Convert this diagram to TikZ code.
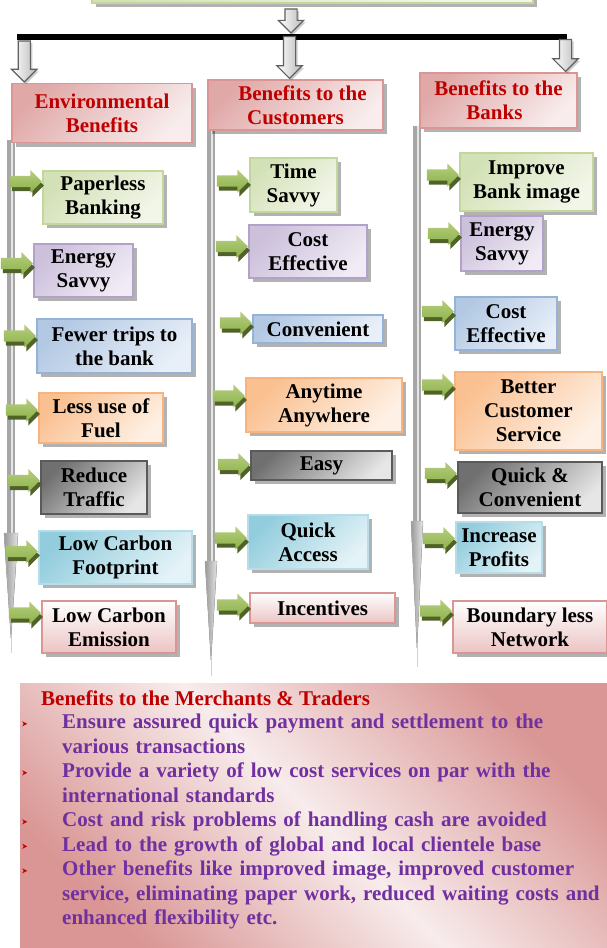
\documentclass[tikz,border=0pt]{standalone}
\usepackage{fontspec}
\setmainfont{Liberation Serif}
\usepackage{xcolor}
\usepackage{tikz}
\usetikzlibrary{shapes,arrows,positioning,shadows}

\definecolor{grnL}{HTML}{F2F6E9}
\definecolor{grnM}{HTML}{D3E1B6}
\definecolor{grnD}{HTML}{C3D69B}
\definecolor{purL}{HTML}{F0EBF5}
\definecolor{purM}{HTML}{CCC0DB}
\definecolor{purD}{HTML}{B3A2C7}
\definecolor{bluL}{HTML}{E8EFF8}
\definecolor{bluM}{HTML}{B3C9E3}
\definecolor{bluD}{HTML}{95B3D7}
\definecolor{orgL}{HTML}{FEF0E4}
\definecolor{orgM}{HTML}{FAC090}
\definecolor{orgD}{HTML}{F8B47E}
\definecolor{gryL}{HTML}{E6E6E6}
\definecolor{gryM}{HTML}{707070}
\definecolor{gryD}{HTML}{5A5A5A}
\definecolor{aquL}{HTML}{E4F3F7}
\definecolor{aquM}{HTML}{93CDDD}
\definecolor{aquD}{HTML}{B7DEE8}
\definecolor{pnkL}{HTML}{F8ECEC}
\definecolor{pnkM}{HTML}{EBC4C3}
\definecolor{pnkD}{HTML}{D99694}
\definecolor{hdrM}{HTML}{E0A9A8}
\definecolor{hdrT}{HTML}{C00000}
\definecolor{mrcT}{HTML}{7030A0}
\definecolor{grnA}{HTML}{B6CF7F}
\definecolor{grnB}{HTML}{8CB04A}
\definecolor{grnS}{HTML}{4F6228}

\newcommand{\boxfont}{\fontsize{21}{24}\selectfont\bfseries}
\newcommand{\mrcbullet}{\noindent\llap{\makebox[40pt][l]{\tikz[baseline=-2.5pt]\fill[hdrT] (0pt,0pt) -- (5pt,2.5pt) -- (0pt,5pt) -- (1.5pt,2.5pt) -- cycle;}}}

\tikzset{
  box/.style={
    rectangle,
    line width=1.5pt,
    inner sep=0pt,
    align=center,
    font=\boxfont,
    drop shadow={shadow xshift=4pt, shadow yshift=-4pt, fill=black, opacity=.3}
  },
  hdrbox/.style={box, draw=pnkD, text=hdrT, top color=hdrM, bottom color=pnkL, shading angle=45},
  grnbox/.style={box, draw=grnD, top color=grnM, bottom color=grnL, shading angle=45},
  purbox/.style={box, draw=purD, top color=purM, bottom color=purL, shading angle=45},
  blubox/.style={box, draw=bluD, top color=bluM, bottom color=bluL, shading angle=45},
  orgbox/.style={box, draw=orgD, top color=orgM, bottom color=orgL, shading angle=45},
  grybox/.style={box, draw=gryD, top color=gryM, bottom color=gryL, shading angle=45},
  aqubox/.style={box, draw=aquD, top color=aquM, bottom color=aquL, shading angle=45},
  pnkbox/.style={box, draw=pnkD, top color=white, bottom color=pnkM},
  garrow/.style={
    single arrow,
    minimum height=32pt,
    single arrow head extend=6pt,
    single arrow head indent=0pt,
    inner sep=5.5pt,
    top color=grnA,
    bottom color=grnB,
    drop shadow={shadow xshift=2pt, shadow yshift=-4pt, fill=grnS, opacity=1}
  },
  darrow/.style={
    single arrow,
    shape border rotate=270,
    single arrow head extend=6.5pt,
    inner sep=5.5pt,
    line width=1.2pt,
    draw=gray!75!black,
    left color=white,
    right color=gray!55,
    drop shadow={shadow xshift=2pt, shadow yshift=-2pt, fill=black, opacity=.2}
  },
  spine/.style={line width=8pt, draw=gray!70},
  spinelight/.style={line width=2.5pt, draw=gray!20},
  needle/.style={left color=gray!80, right color=gray!20, draw=gray!60, line width=.5pt},
  mrcbox/.style={rectangle, inner sep=0pt, top color=pnkD, bottom color=pnkD, middle color=pnkL, shading angle=-45},
  mrctitle/.style={font=\boxfont, text=hdrT, inner sep=0pt},
  mrclist/.style={font=\fontsize{21}{24.5}\selectfont\bfseries, text=mrcT, text width=583pt, align=left, inner sep=0pt}
}

\begin{document}
\begin{tikzpicture}[x=1pt, y=-1pt]
\useasboundingbox (0,0) rectangle (607,948);

% spines with needle ends
\draw[spine] (11,140) -- (11,534);
\draw[spinelight] (12,140) -- (12,534);
\fill[needle] (4,533) -- (18,533) -- (11,638) -- cycle;
\draw[gray!35, line width=1pt] (11,638) -- (11,653);
\draw[spine] (211,128) -- (211,562);
\draw[spinelight] (212,128) -- (212,562);
\fill[needle] (205,561) -- (217,561) -- (211,660) -- cycle;
\draw[gray!35, line width=1pt] (211,660) -- (211,676);
\draw[spine] (417,126) -- (417,522);
\draw[spinelight] (418,126) -- (418,522);
\fill[needle] (411,521) -- (423,521) -- (417,648) -- cycle;
\draw[gray!35, line width=1pt] (417,648) -- (417,667);

% top of tree
\node[grnbox, minimum width=441pt, minimum height=60pt] (src) at (312.5,-27) {};
\node[fill=black, minimum width=550pt, minimum height=6pt, inner sep=0pt] (bar) at (292,37) {};
\node[darrow, minimum height=24pt, anchor=tip] (da0) at ([xshift=-1pt]bar.north) {};

% headers
\node[hdrbox, minimum width=180pt, minimum height=59pt] (env) at (102,113) {Environmental\\Benefits};
\node[hdrbox, minimum width=175pt, minimum height=50pt] (cus) at (295.5,105) {\hspace*{14pt}Benefits to the\\Customers};
\node[hdrbox, minimum width=157pt, minimum height=55pt] (bnk) at (498.5,100.5) {Benefits to the\\Banks\hspace*{8pt}};

\node[darrow, minimum height=41pt, anchor=tip] (da1) at ([xshift=13pt]env.north west) {};
\node[darrow, minimum height=42pt, anchor=tip] (da2) at ([xshift=-6pt]cus.north) {};
\node[darrow, minimum height=32pt, anchor=tip] (da3) at ([xshift=67pt]bnk.north) {};

% environmental benefits
\node[grnbox, minimum width=120pt, minimum height=53pt] (pb) at (103,197.5) {Paperless\\Banking};
\node[purbox, minimum width=99pt, minimum height=53pt] (es1) at (83.5,270.5) {Energy\\Savvy};
\node[blubox, minimum width=155pt, minimum height=54pt] (ft) at (114.5,346) {Fewer trips to\\the bank};
\node[orgbox, minimum width=124pt, minimum height=50pt] (lu) at (101,418) {Less use of\\Fuel};
\node[grybox, minimum width=106pt, minimum height=53pt] (rt) at (94,487.5) {Reduce\\Traffic};
\node[aqubox, minimum width=153pt, minimum height=53pt] (lcf) at (115.5,557.5) {Low Carbon\\Footprint};
\node[pnkbox, minimum width=134pt, minimum height=52pt] (lce) at (109,627) {Low Carbon\\Emission};

% benefits to the customers
\node[grnbox, minimum width=87pt, minimum height=54pt] (ts) at (293.5,185) {Time\\Savvy};
\node[purbox, minimum width=118pt, minimum height=53pt] (ce1) at (308,251.5) {Cost\\Effective};
\node[blubox, minimum width=130pt, minimum height=28pt] (cv) at (318,329) {Convenient};
\node[orgbox, minimum width=156pt, minimum height=54pt] (aa) at (324,405) {Anytime\\Anywhere};
\node[grybox, minimum width=141pt, minimum height=29pt] (ea) at (321.5,465.5) {Easy};
\node[aqubox, minimum width=120pt, minimum height=54pt] (qa) at (308,542) {Quick\\Access};
\node[pnkbox, minimum width=145pt, minimum height=30pt] (inc) at (322.5,608) {Incentives};

% benefits to the banks
\node[grnbox, minimum width=133pt, minimum height=58pt] (ibi) at (526.5,182) {Improve\\Bank image};
\node[purbox, minimum width=82pt, minimum height=55pt] (es2) at (502,243.5) {Energy\\Savvy};
\node[blubox, minimum width=102pt, minimum height=53pt] (ce2) at (506,323.5) {Cost\\Effective};
\node[orgbox, minimum width=147pt, minimum height=78pt] (bcs) at (528.5,411) {Better\\Customer\\Service};
\node[grybox, minimum width=144pt, minimum height=51pt] (qc) at (530,487.5) {Quick \&\\Convenient};
\node[aqubox, minimum width=86pt, minimum height=51pt] (ip) at (499,547.5) {Increase\\Profits};
\node[pnkbox, minimum width=154pt, minimum height=52pt] (bln) at (530,627) {Boundary less\\Network};

% green pointers
\node[garrow, left=0pt of pb, anchor=tip, yshift=16pt] (g1) {};
\node[garrow, left=0pt of es1, anchor=tip, yshift=7pt] (g2) {};
\node[garrow, left=0pt of ft, anchor=tip, yshift=10pt] (g3) {};
\node[garrow, left=0pt of lu, anchor=tip, yshift=8pt] (g4) {};
\node[garrow, left=0pt of rt, anchor=tip, yshift=7pt] (g5) {};
\node[garrow, left=0pt of lcf, anchor=tip, yshift=6pt] (g6) {};
\node[garrow, left=0pt of lce, anchor=tip, yshift=14pt] (g7) {};

\node[garrow, left=0pt of ts, anchor=tip, yshift=4pt] (g8) {};
\node[garrow, left=0pt of ce1, anchor=tip, yshift=5pt] (g9) {};
\node[garrow, left=0pt of cv, anchor=tip, yshift=6pt] (g10) {};
\node[garrow, left=0pt of aa, anchor=tip, yshift=9pt] (g11) {};
\node[garrow, left=0pt of ea, anchor=tip, yshift=1pt] (g12) {};
\node[garrow, left=0pt of qa, anchor=tip, yshift=4pt] (g13) {};
\node[garrow, left=0pt of inc, anchor=tip, yshift=3pt] (g14) {};

\node[garrow, left=0pt of ibi, anchor=tip, yshift=7pt] (g15) {};
\node[garrow, left=0pt of es2, anchor=tip, yshift=10pt] (g16) {};
\node[garrow, left=0pt of ce2, anchor=tip, yshift=12pt] (g17) {};
\node[garrow, left=0pt of bcs, anchor=tip, yshift=26pt] (g18) {};
\node[garrow, left=0pt of qc, anchor=tip, yshift=14pt] (g19) {};
\node[garrow, left=0pt of ip, anchor=tip, yshift=9pt] (g20) {};
\node[garrow, left=0pt of bln, anchor=tip, yshift=16pt] (g21) {};

% merchants and traders
\node[mrcbox, minimum width=587pt, minimum height=265pt] (mrc) at (313.5,815.5) {};
\node[mrctitle, anchor=base west] (mrct) at (41,705) {Benefits to the Merchants \& Traders};
\node[mrclist, anchor=north west] (mrcl) at (22,714) {\leftskip=40pt
  \mrcbullet Ensure assured quick payment and settlement to the\\various transactions\par
  \mrcbullet Provide a variety of low cost services on par with the\\international standards\par
  \mrcbullet Cost and risk problems of handling cash are avoided\par
  \mrcbullet Lead to the growth of global and local clientele base\par
  \mrcbullet Other benefits like improved image, improved customer\\service, eliminating paper work, reduced waiting costs and\\enhanced flexibility etc.\par};

\end{tikzpicture}
\end{document}
